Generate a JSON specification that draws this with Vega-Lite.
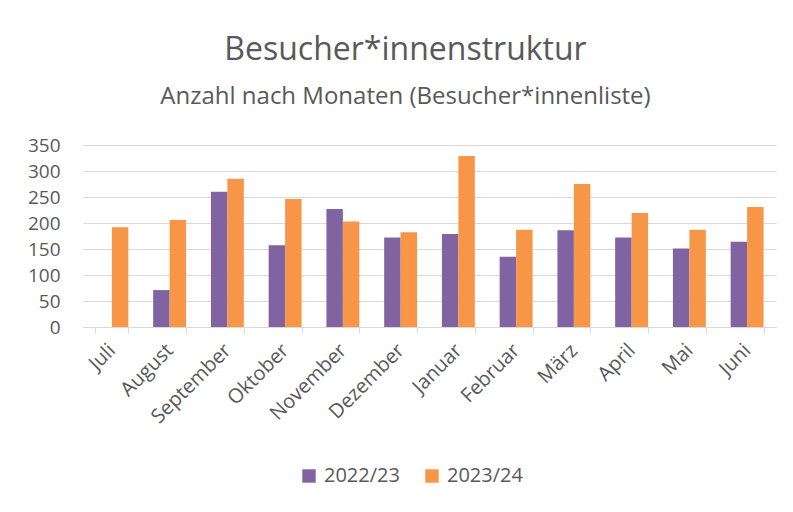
{
  "$schema": "https://vega.github.io/schema/vega-lite/v6.json",
  "width": 693,
  "height": 182,
  "autosize": {"type": "none"},
  "padding": {"left": 83, "top": 145, "right": 17, "bottom": 185},
  "background": "white",
  "title": {
    "text": "Besucher*innenstruktur",
    "subtitle": "Anzahl nach Monaten (Besucher*innenliste)",
    "anchor": "middle",
    "dx": -24,
    "offset": 26,
    "font": "Open Sans",
    "fontSize": 32,
    "fontWeight": "normal",
    "color": "#595959",
    "subtitleFont": "Open Sans",
    "subtitleFontSize": 24,
    "subtitleColor": "#595959",
    "subtitlePadding": 18
  },
  "data": {
    "values": [
      {"Monat": "Juli", "Jahr": "2022/23", "Anzahl": null},
      {"Monat": "Juli", "Jahr": "2023/24", "Anzahl": 192},
      {"Monat": "August", "Jahr": "2022/23", "Anzahl": 71},
      {"Monat": "August", "Jahr": "2023/24", "Anzahl": 206},
      {"Monat": "September", "Jahr": "2022/23", "Anzahl": 260},
      {"Monat": "September", "Jahr": "2023/24", "Anzahl": 285},
      {"Monat": "Oktober", "Jahr": "2022/23", "Anzahl": 157},
      {"Monat": "Oktober", "Jahr": "2023/24", "Anzahl": 246},
      {"Monat": "November", "Jahr": "2022/23", "Anzahl": 227},
      {"Monat": "November", "Jahr": "2023/24", "Anzahl": 203},
      {"Monat": "Dezember", "Jahr": "2022/23", "Anzahl": 172},
      {"Monat": "Dezember", "Jahr": "2023/24", "Anzahl": 182},
      {"Monat": "Januar", "Jahr": "2022/23", "Anzahl": 179},
      {"Monat": "Januar", "Jahr": "2023/24", "Anzahl": 329},
      {"Monat": "Februar", "Jahr": "2022/23", "Anzahl": 135},
      {"Monat": "Februar", "Jahr": "2023/24", "Anzahl": 187},
      {"Monat": "März", "Jahr": "2022/23", "Anzahl": 186},
      {"Monat": "März", "Jahr": "2023/24", "Anzahl": 275},
      {"Monat": "April", "Jahr": "2022/23", "Anzahl": 172},
      {"Monat": "April", "Jahr": "2023/24", "Anzahl": 219},
      {"Monat": "Mai", "Jahr": "2022/23", "Anzahl": 151},
      {"Monat": "Mai", "Jahr": "2023/24", "Anzahl": 187},
      {"Monat": "Juni", "Jahr": "2022/23", "Anzahl": 164},
      {"Monat": "Juni", "Jahr": "2023/24", "Anzahl": 231}
    ]
  },
  "mark": {"type": "bar"},
  "encoding": {
    "x": {
      "field": "Monat",
      "type": "nominal",
      "sort": null,
      "title": null,
      "scale": {"paddingInner": 0.43, "paddingOuter": 0.215},
      "axis": {
        "labelAngle": -45,
        "labelAlign": "right",
        "labelBaseline": "middle",
        "labelFont": "Open Sans",
        "labelFontSize": 20,
        "labelColor": "#595959",
        "labelPadding": 14,
        "labelOverlap": false,
        "domainColor": "#d9d9d9",
        "tickColor": "#d9d9d9",
        "tickBand": "extent",
        "tickSize": 6
      }
    },
    "xOffset": {"field": "Jahr", "type": "nominal"},
    "y": {
      "field": "Anzahl",
      "type": "quantitative",
      "title": null,
      "scale": {"domain": [0, 350], "nice": false},
      "axis": {
        "values": [0, 50, 100, 150, 200, 250, 300, 350],
        "domain": false,
        "ticks": false,
        "gridColor": "#d9d9d9",
        "gridWidth": 1,
        "labelFont": "Open Sans",
        "labelFontSize": 19,
        "labelColor": "#595959",
        "labelPadding": 23
      }
    },
    "color": {
      "field": "Jahr",
      "type": "nominal",
      "scale": {"domain": ["2022/23", "2023/24"], "range": ["#8064A2", "#F79646"]},
      "legend": {
        "title": null,
        "orient": "none",
        "direction": "horizontal",
        "legendX": 216,
        "legendY": 321,
        "symbolType": "square",
        "symbolSize": 180,
        "symbolStrokeWidth": 0,
        "labelFont": "Open Sans",
        "labelFontSize": 20,
        "labelColor": "#595959",
        "columnPadding": 22,
        "labelOffset": 5
      }
    }
  },
  "config": {"view": {"stroke": null}}
}
